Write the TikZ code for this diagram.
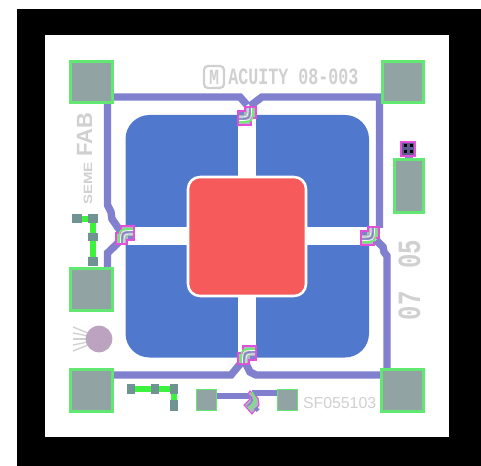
\documentclass[tikz,border=0pt]{standalone}
\usepackage{fontspec}
\setmainfont{Liberation Sans}
\newfontfamily\monofam{Liberation Mono}
\definecolor{padfill}{HTML}{91A3A3}
\definecolor{smallfill}{HTML}{6F9292}
\definecolor{padedge}{HTML}{62E872}
\definecolor{tracecol}{HTML}{8080CF}
\definecolor{plate}{HTML}{5079CE}
\definecolor{mass}{HTML}{F65A5A}
\definecolor{inkgray}{HTML}{D0D0D0}
\definecolor{wire}{HTML}{3CF23C}
\definecolor{viaedge}{HTML}{E24FD8}
\definecolor{discol}{HTML}{BCA3C0}
\tikzset{
  pad/.style={fill=padfill,draw=padedge,line width=1.7pt},
  smallpad/.style={fill=smallfill,draw=none},
  trace/.style={draw=tracecol,line width=5.6pt,line join=miter},
  greenwire/.style={draw=wire,line width=3.8pt},
  inktext/.style={text=inkgray,inner sep=0pt,outer sep=0pt},
  viabend/.pic={
    \path[fill=padfill!75!white,draw=viaedge,line width=1pt]
      (-9,9)--(-9,-2)--(-4,-2)--(-4,-9)--(9,-9)--(9,5)--(2,5)--(2,9)--cycle;
    \draw[wire!80!white,line width=1.1pt] (-6,8) .. controls (-6,-6) and (-6,-6) .. (8,-6);
    \draw[white,line width=.5pt] (-4.5,8) .. controls (-4.5,-4.5) and (-4.5,-4.5) .. (8,-4.5);
    \draw[tracecol,line width=1pt] (-3,8) .. controls (-3,-3) and (-3,-3) .. (8,-3);
    \draw[white,line width=.5pt] (-1,8) .. controls (-1,-1) and (-1,-1) .. (8,-1);
    \fill[tracecol] (3,1) rectangle (8,4);
  }
}
\begin{document}
\begin{tikzpicture}[x=0.75pt,y=-0.75pt]
\useasboundingbox (0,0) rectangle (481,466);
\fill[white] (0,0) rectangle (481,466);
\fill[black] (17,9) rectangle (481,466);
\fill[white] (45,35) rectangle (449,437);
% plates
\fill[plate,rounded corners=18pt] (125.5,115) rectangle (369,357.5);
\fill[white] (238,112) rectangle (256,360);
\fill[white] (122,227) rectangle (372,245);
\fill[mass,draw=white,line width=1.9pt,rounded corners=9pt] (188,177) rectangle (306,296);
% traces
\draw[trace] (113,97) -- (240,97) -- (247,105);
\draw[trace] (107.5,103) -- (107.5,205) -- (111,212) -- (112,219) -- (121,232);
\draw[trace] (107.5,268) -- (107.5,253) -- (119,242);
\draw[trace] (250,106) -- (262,97) -- (379.5,97) -- (379.5,228);
\draw[trace] (376,240) -- (383,247) -- (384,252) -- (387,256) -- (387,370);
\draw[trace] (113,375) -- (231,375) -- (241,363);
\draw[trace] (246,364) -- (250,372) -- (256,375) -- (381,375);
\draw[trace,line width=4.8pt] (217,396) -- (250,396);
\draw[trace,line width=4.8pt] (252,393) -- (277,393);
\fill[tracecol] (405,155) rectangle (413,160);
% large pads
\draw[pad] (70.5,61.5) rectangle (112.5,102.5);
\draw[pad] (382.5,61.5) rectangle (423.5,102.5);
\draw[pad] (394.5,159.5) rectangle (423.5,212.5);
\draw[pad] (70.5,268.5) rectangle (112.5,310.5);
\draw[pad] (70.5,369.5) rectangle (112.5,411.5);
\draw[pad] (381.5,369.5) rectangle (423.5,411.5);
\draw[pad,line width=.9pt] (196.5,389.5) rectangle (216.5,410.5);
\draw[pad,line width=.9pt] (277.5,389.5) rectangle (297.5,410.5);
% small test structure, left
\draw[greenwire] (81,219) -- (93,219) -- (93,258);
\fill[smallpad] (72,214) rectangle (82,223);
\fill[smallpad] (88,214) rectangle (98,223);
\fill[smallpad] (88,233) rectangle (98,241);
\fill[smallpad] (88,257) rectangle (98,266);
% small test structure, bottom
\draw[greenwire] (133,389) -- (174,389) -- (174,401);
\fill[smallpad] (127,384) rectangle (135,394);
\fill[smallpad] (151,384) rectangle (159,394);
\fill[smallpad] (170,384) rectangle (178,394);
\fill[smallpad] (170,400) rectangle (178,411);
% contact
\fill[tracecol!70!black] (401,142) rectangle (415,156);
\draw[viaedge,line width=1pt] (401,142) rectangle (415,156);
\foreach \cx/\cy in {405/146,411/146,405/152,411/152}
  \fill[black] (\cx-1.5,\cy-1.5) rectangle (\cx+1.5,\cy+1.5);
% disc with rays
\foreach \ry in {-12,-6,0,6,12}
  \draw[inkgray,line width=1pt] (88,339+\ry*0.5) -- (73,339+\ry);
\fill[discol] (99,339) circle[radius=10pt];
% vias
\pic[rotate=180] at (247,116) {viabend};
\pic at (125,235) {viabend};
\pic[rotate=180] at (370,236) {viabend};
\pic at (247,355) {viabend};
% zigzag device between the bottom pads
\path[fill=padfill!75!white,draw=viaedge,line width=.8pt]
  (250,391) -- (258,398) -- (259,405) -- (252,414) -- (244,405) -- (250,399) -- (248,394) -- cycle;
\draw[wire!80!white,line width=1pt] (252,392) .. controls (257,399) and (256,403) .. (249,409);
\draw[tracecol,line width=1pt] (249,395) .. controls (254,399) and (253,402) .. (247,406);
\fill[tracecol] (254,409) -- (257,406.5) -- (259.5,409.5) -- (256.5,412) -- cycle;
% labels
\draw[inkgray,line width=1.7pt,rounded corners=3pt] (204,66) rectangle (224,88);
\node[inktext,font=\monofam\bfseries\fontsize{12.5pt}{12.5pt}\selectfont,yscale=1.3,transform shape] (mlogo) at (214,77) {M};
\node[inktext,font=\monofam\bfseries\fontsize{12.5pt}{12.5pt}\selectfont,yscale=1.4,transform shape,anchor=base] (acuity) at (293.5,85) {ACUITY 08-003};
\node[inktext,font=\monofam\bfseries\fontsize{18pt}{18pt}\selectfont,rotate=90,yscale=1.35,anchor=base west,transform shape] (datecode) at (420,320) {07\hspace{17pt}05};
\node[inktext,font=\bfseries\fontsize{16.5pt}{16.5pt}\selectfont,rotate=90,anchor=base west,transform shape] (fab) at (92,157) {FAB};
\node[inktext,font=\bfseries\fontsize{9pt}{9pt}\selectfont,rotate=90,xscale=1.25,anchor=base west,transform shape] (seme) at (92,205) {SEME};
\node[inktext,font=\fontsize{11.9pt}{11.9pt}\selectfont,anchor=base west] (serial) at (303,408) {SF055103};
\end{tikzpicture}
\end{document}
